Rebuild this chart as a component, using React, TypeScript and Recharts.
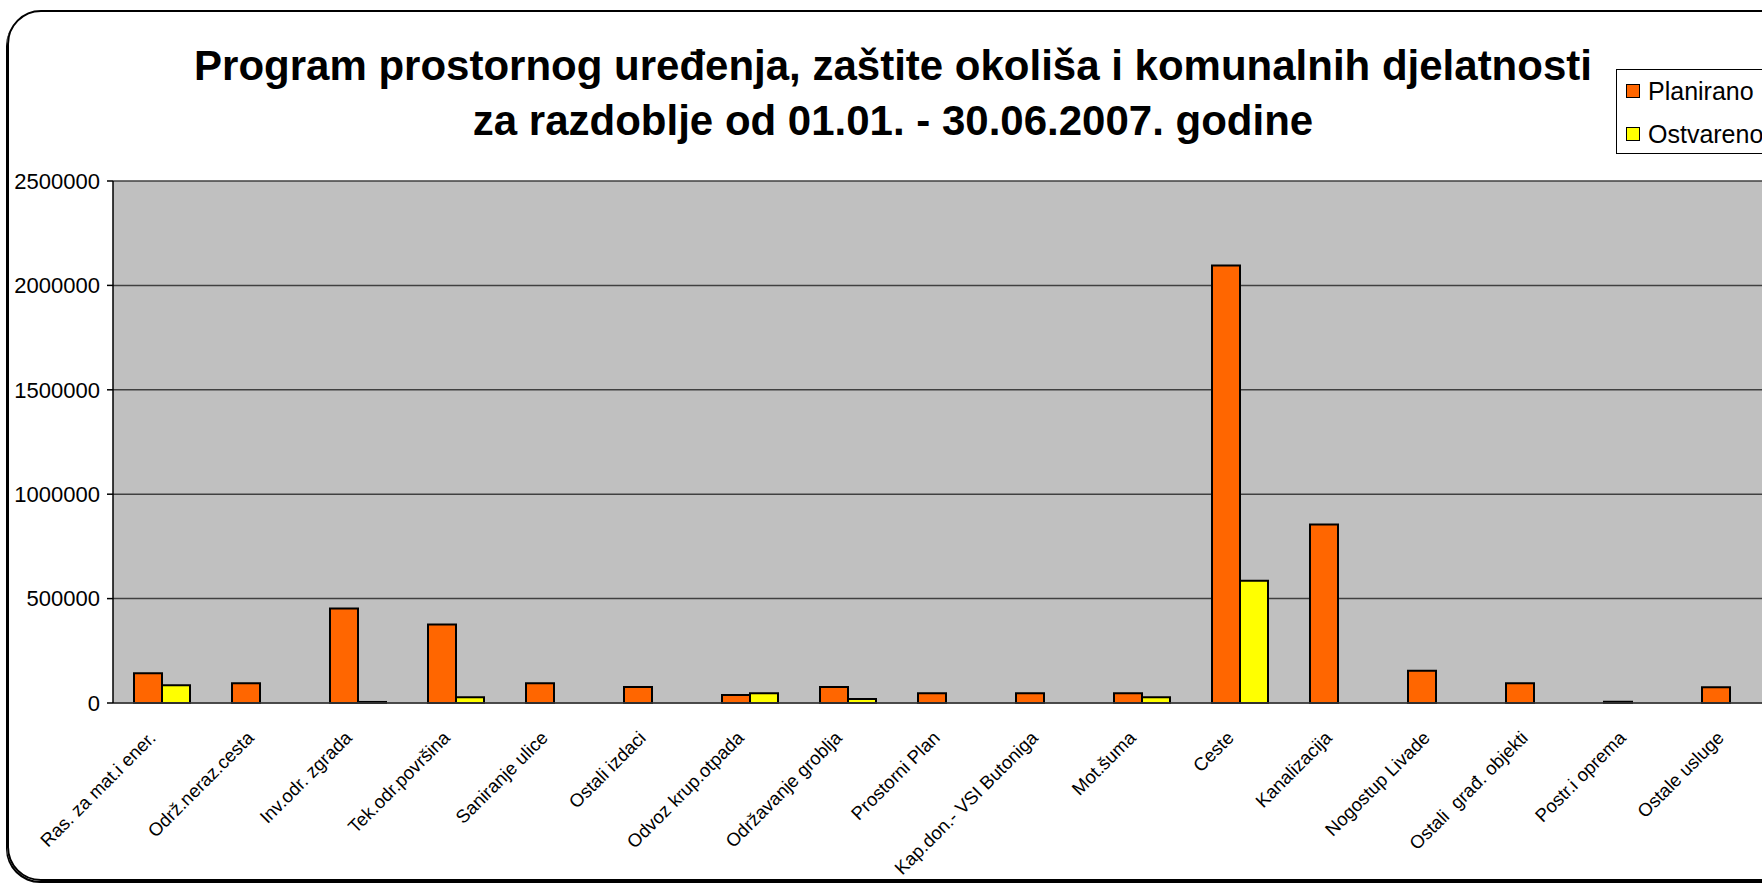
import { BarChart, Bar, XAxis, YAxis, CartesianGrid } from 'recharts';

const FONT = '"Liberation Sans", Arial, sans-serif';

const titleLines = [
  'Program prostornog uređenja, zaštite okoliša i komunalnih djelatnosti',
  'za razdoblje od 01.01. - 30.06.2007. godine',
];

const categories = [
  'Ras. za mat.i ener.',
  'Održ.neraz.cesta',
  'Inv.odr. zgrada',
  'Tek.odr.površina',
  'Saniranje ulice',
  'Ostali izdaci',
  'Odvoz krup.otpada',
  'Održavanje groblja',
  'Prostorni Plan',
  'Kap.don.- VSI Butoniga',
  'Mot.šuma',
  'Ceste',
  'Kanalizacija',
  'Nogostup Livade',
  'Ostali  građ. objekti',
  'Postr.i oprema',
  'Ostale usluge',
];

const planirano = [
  143000, 95000, 452000, 376000, 95000, 77000, 38000, 77000, 47000, 47000, 47000, 2095000, 855000,
  154000, 95000, 6000, 76000,
];
const ostvareno = [
  85000, 0, 5000, 27000, 0, 0, 47000, 19000, 0, 0, 27000, 586000, 0, 0, 0, 0, 0,
];

const yTicks = [0, 500000, 1000000, 1500000, 2000000, 2500000];

const seriesNames = ['Planirano', 'Ostvareno'];
const seriesKeys = ['planirano', 'ostvareno'];
const seriesColors = ['#FF6600', '#FFFF00'];

const data = categories.map((name, i) => ({
  name,
  planirano: planirano[i],
  ostvareno: ostvareno[i],
}));

// category boundaries for the Excel-style tick marks between groups
const boundaries = [...categories.map((_, i) => i), categories.length];

function CategoryTick({ x, y, payload }: any) {
  const px = x - 5;
  const py = y + 36;
  return (
    <text
      x={px}
      y={py}
      textAnchor="end"
      transform={`rotate(-45 ${px} ${py})`}
      fontSize={18.5}
      fontFamily={FONT}
      fill="#000"
      style={{ whiteSpace: 'pre' }}
    >
      {payload.value}
    </text>
  );
}

export default function App() {
  return (
    <div
      style={{
        position: 'fixed',
        left: 0,
        top: 0,
        width: 1762,
        height: 884,
        overflow: 'hidden',
        background: '#fff',
        fontFamily: FONT,
      }}
    >
      {/* chart frame */}
      <div
        style={{
          position: 'absolute',
          left: 7,
          top: 10,
          width: 1790,
          height: 871,
          boxSizing: 'border-box',
          border: '2px solid #000',
          borderRadius: 34,
          boxShadow: '-1px 2px 0 #000',
        }}
      />

      <div style={{ position: 'absolute', left: 0, top: 0 }}>
        <BarChart
          width={1800}
          height={884}
          data={data}
          margin={{ top: 181, right: 21, bottom: 0, left: 8 }}
          barSize={28}
          barGap={0}
        >
          <CartesianGrid
            vertical={false}
            stroke="#404040"
            strokeWidth={1.5}
            fill="#C0C0C0"
            fillOpacity={1}
          />
          <XAxis
            xAxisId="edges"
            type="number"
            domain={[0, categories.length]}
            ticks={boundaries}
            tick={false}
            tickSize={6}
            tickLine={{ stroke: '#000', strokeWidth: 1.5 }}
            axisLine={false}
            height={0}
          />
          <XAxis
            xAxisId="cat"
            dataKey="name"
            interval={0}
            height={181}
            tickLine={false}
            tickSize={0}
            tickMargin={0}
            axisLine={{ stroke: '#404040', strokeWidth: 1.5 }}
            tick={<CategoryTick />}
          />
          <YAxis
            domain={[0, 2500000]}
            ticks={yTicks}
            width={105}
            tickSize={6}
            tickMargin={7}
            interval={0}
            axisLine={{ stroke: '#000', strokeWidth: 1.5 }}
            tickLine={{ stroke: '#000', strokeWidth: 1.5 }}
            tick={{ fill: '#000', fontSize: 22, fontFamily: FONT }}
          />
          {seriesKeys.map((key, i) => (
            <Bar
              key={key}
              xAxisId="cat"
              dataKey={key}
              name={seriesNames[i]}
              fill={seriesColors[i]}
              stroke="#000"
              strokeWidth={2}
              isAnimationActive={false}
            />
          ))}
        </BarChart>
      </div>

      {/* title */}
      {titleLines.map((line, i) => (
        <div
          key={i}
          style={{
            position: 'absolute',
            left: 0,
            width: 1786,
            top: 37 + i * 55,
            textAlign: 'center',
            fontSize: 42,
            lineHeight: '57px',
            fontWeight: 'bold',
            color: '#000',
            whiteSpace: 'nowrap',
          }}
        >
          {line}
        </div>
      ))}

      {/* legend */}
      <div
        style={{
          position: 'absolute',
          left: 1616,
          top: 69,
          width: 190,
          height: 85,
          boxSizing: 'border-box',
          border: '1px solid #000',
          background: '#fff',
        }}
      >
        {seriesNames.map((name, i) => (
          <div
            key={name}
            style={{
              position: 'absolute',
              left: 9,
              top: 7 + i * 43,
              display: 'flex',
              alignItems: 'center',
              height: 28,
            }}
          >
            <span
              style={{
                display: 'inline-block',
                width: 14,
                height: 14,
                boxSizing: 'border-box',
                border: '1.5px solid #000',
                background: seriesColors[i],
                marginRight: 8,
              }}
            />
            <span style={{ fontSize: 25, color: '#000' }}>{name}</span>
          </div>
        ))}
      </div>
    </div>
  );
}
